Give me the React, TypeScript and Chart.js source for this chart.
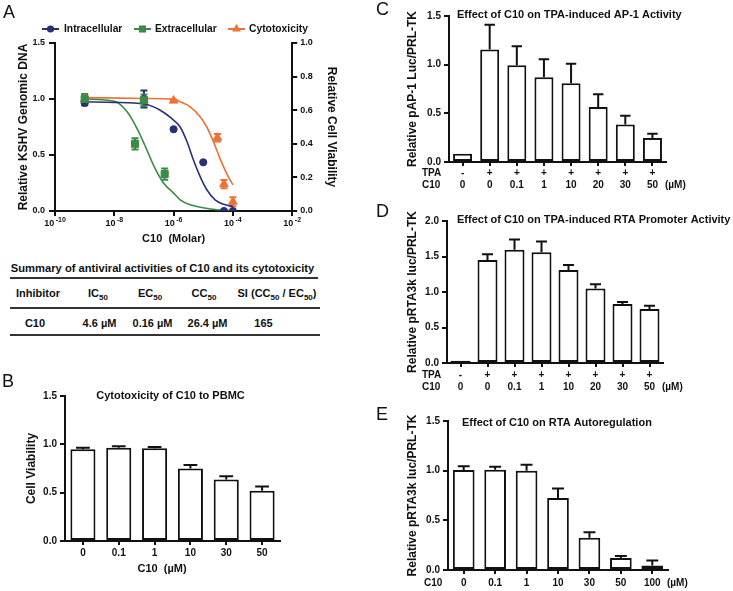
import React, { useEffect, useRef } from 'react';
import { Chart, registerables } from 'chart.js';

Chart.register(...registerables);

const FONT = "'Liberation Sans', Arial, Helvetica, sans-serif";
const INK = '#111111';
const NAVY = '#2a3075';
const GREEN = '#3a8b47';
const ORANGE = '#ed7133';

// ---------- Panel A: dose-response (molar, log axis) ----------
const intraDose = [1e-9, 1e-7, 1e-6, 1e-5, 5e-5, 1e-4];
const intraMean = [0.965, 1.0, 0.73, 0.435, 0.0, 0.0];
const intraSem = [0.02, 0.075, 0, 0, 0, 0];

const extraDose = [1e-9, 5e-8, 1e-7, 5e-7];
const extraMean = [1.0, 0.6, 0.99, 0.33];
const extraSem = [0.045, 0.05, 0.05, 0.05];

const cytoDose = [1e-9, 1e-7, 1e-6, 3e-5, 5e-5, 1e-4];
const cytoMean = [0.665, 0.66, 0.657, 0.436, 0.16, 0.055];
const cytoSem = [0.012, 0.012, 0.006, 0.022, 0.025, 0.027];

// fitted curves
const intraFitDose = [1e-9, 1e-8, 1e-7, 3.55e-7, 7.76e-7, 1.66e-6, 2.82e-6, 4.68e-6, 7.94e-6, 1.32e-5, 2.51e-5, 4.9e-5, 1e-4];
const intraFitValue = [0.975, 0.97, 0.955, 0.9, 0.835, 0.75, 0.62, 0.455, 0.305, 0.19, 0.1, 0.06, 0.04];
const extraFitDose = [1e-9, 1e-8, 2.63e-8, 5.75e-8, 1.26e-7, 2.09e-7, 4.57e-7, 1e-6, 1.66e-6, 3.63e-6, 1.74e-5, 1e-4];
const extraFitValue = [1.0, 0.98, 0.89, 0.74, 0.545, 0.41, 0.25, 0.16, 0.1, 0.055, 0.018, 0.003];
const cytoFitDose = [1e-9, 1e-7, 1e-6, 1.66e-6, 3.63e-6, 7.94e-6, 1.32e-5, 2.24e-5, 3.72e-5, 6.31e-5, 1e-4];
const cytoFitValue = [0.675, 0.67, 0.665, 0.65, 0.62, 0.56, 0.5, 0.41, 0.31, 0.22, 0.155];

const aTickExponents = [-10, -8, -6, -4, -2];

// ---------- Summary table ----------
const tableTitle = 'Summary of antiviral activities of C10 and its cytotoxicity';
const tableRow = ['C10', '4.6 µM', '0.16 µM', '26.4 µM', '165'];

// ---------- Panel B ----------
const bDoses = ['0', '0.1', '1', '10', '30', '50'];
const bViability = [0.95, 0.965, 0.96, 0.75, 0.635, 0.52];
const bErr = [0.015, 0.015, 0.013, 0.037, 0.035, 0.045];

// ---------- Panels C & D ----------
const tpaFlags = ['-', '+', '+', '+', '+', '+', '+', '+'];
const cdDoses = ['0', '0', '0.1', '1', '10', '20', '30', '50'];
const cValues = [0.085, 1.155, 0.995, 0.87, 0.81, 0.565, 0.385, 0.247];
const cErr = [0, 0.255, 0.195, 0.185, 0.2, 0.13, 0.09, 0.043];
const dValues = [0.03, 1.45, 1.595, 1.56, 1.31, 1.05, 0.83, 0.76];
const dErr = [0, 0.08, 0.145, 0.15, 0.07, 0.06, 0.03, 0.045];

// ---------- Panel E ----------
const eDoses = ['0', '0.1', '1', '10', '30', '50', '100'];
const eValues = [1.007, 1.01, 1.0, 0.725, 0.325, 0.12, 0.045];
const eErr = [0.038, 0.03, 0.06, 0.095, 0.055, 0.02, 0.05];

const boldFont = (size: number) => ({ family: FONT, size, weight: 'bold' as const });

function drawMarker(ctx: CanvasRenderingContext2D, style: string, x: number, y: number, r: number, color: string) {
  ctx.fillStyle = color;
  ctx.beginPath();
  if (style === 'circle') {
    ctx.arc(x, y, r, 0, Math.PI * 2);
  } else if (style === 'rect') {
    const h = r * Math.SQRT1_2;
    ctx.rect(x - h, y - h, 2 * h, 2 * h);
  } else {
    ctx.moveTo(x, y - r);
    ctx.lineTo(x + r * 0.866, y + r * 0.5);
    ctx.lineTo(x - r * 0.866, y + r * 0.5);
    ctx.closePath();
  }
  ctx.fill();
}

function DoseResponsePanel() {
  const ref = useRef<HTMLCanvasElement>(null);
  useEffect(() => {
    const series = [
      { label: 'Intracellular', color: NAVY, style: 'circle', radius: 3.6, dose: intraDose, mean: intraMean, sem: intraSem, axis: 'y', fitDose: intraFitDose, fitValue: intraFitValue, order: 2, legX: 42, legTextX: 64 },
      { label: 'Extracellular', color: GREEN, style: 'rect', radius: 5, dose: extraDose, mean: extraMean, sem: extraSem, axis: 'y', fitDose: extraFitDose, fitValue: extraFitValue, order: 1, legX: 134, legTextX: 155 },
      { label: 'Cytotoxicity', color: ORANGE, style: 'triangle', radius: 5, dose: cytoDose, mean: cytoMean, sem: cytoSem, axis: 'y1', fitDose: cytoFitDose, fitValue: cytoFitValue, order: 3, legX: 228, legTextX: 249 },
    ];
    const pts = (xs: number[], ys: number[]) => xs.map((x, i) => ({ x, y: ys[i] }));
    const datasets: any[] = [];
    series.forEach((s) => {
      datasets.push({
        label: s.label, data: pts(s.dose, s.mean), yAxisID: s.axis, showLine: false,
        pointStyle: s.style, pointRadius: s.radius, pointBackgroundColor: s.color, pointBorderColor: s.color,
        pointBorderWidth: 1, borderColor: s.color, backgroundColor: s.color, order: s.order,
      });
    });
    series.forEach((s) => {
      datasets.push({
        label: s.label + ' fit', data: pts(s.fitDose, s.fitValue), yAxisID: s.axis,
        borderColor: s.color, borderWidth: 1.6, pointRadius: 0, cubicInterpolationMode: 'monotone',
        fill: false, order: 10,
      });
    });

    const errorBars = {
      id: 'aErrorBars',
      beforeDatasetsDraw(chart: any) {
        const { ctx } = chart;
        const xS = chart.scales.x;
        ctx.save();
        ctx.lineWidth = 2;
        series.forEach((s) => {
          const yS = chart.scales[s.axis];
          ctx.strokeStyle = s.color;
          s.dose.forEach((d, i) => {
            const e = s.sem[i];
            if (!e) return;
            const x = xS.getPixelForValue(d);
            const yt = yS.getPixelForValue(s.mean[i] + e);
            const yb = yS.getPixelForValue(s.mean[i] - e);
            ctx.beginPath();
            ctx.moveTo(x, yt); ctx.lineTo(x, yb);
            ctx.moveTo(x - 3.5, yt); ctx.lineTo(x + 3.5, yt);
            ctx.moveTo(x - 3.5, yb); ctx.lineTo(x + 3.5, yb);
            ctx.stroke();
          });
        });
        ctx.restore();
      },
    };

    const decorations = {
      id: 'aDecor',
      afterDraw(chart: any) {
        const { ctx } = chart;
        const xS = chart.scales.x;
        ctx.save();
        ctx.fillStyle = INK;
        ctx.textBaseline = 'middle';
        // log tick labels 10^n
        xS.ticks.forEach((t: any) => {
          const x = xS.getPixelForValue(t.value);
          const exp = String(Math.round(Math.log10(t.value)));
          ctx.font = `bold 9px ${FONT}`;
          const wb = ctx.measureText('10').width;
          ctx.font = `bold 7px ${FONT}`;
          const we = ctx.measureText(exp).width;
          const start = x - (wb + 1.5 + we) / 2;
          ctx.textAlign = 'left';
          ctx.font = `bold 9px ${FONT}`;
          ctx.fillText('10', start, xS.top + 12.3);
          ctx.font = `bold 7px ${FONT}`;
          ctx.fillText(exp, start + wb + 1.5, xS.top + 9);
        });
        // legend
        series.forEach((s) => {
          const y = 29;
          ctx.strokeStyle = s.color;
          ctx.lineWidth = 2;
          ctx.beginPath();
          ctx.moveTo(s.legX, y); ctx.lineTo(s.legX + 17, y);
          ctx.stroke();
          drawMarker(ctx, s.style, s.legX + 8.5, y, s.radius, s.color);
          ctx.fillStyle = INK;
          ctx.font = `bold 10.3px ${FONT}`;
          ctx.textAlign = 'left';
          ctx.fillText(s.label, s.legTextX, y);
        });
        ctx.restore();
      },
    };

    const axisGrid = (len: number) => ({ display: true, drawOnChartArea: false, color: INK, lineWidth: 2, tickLength: len });
    const axisBorder = { display: true, color: INK, width: 2 };

    const chart = new Chart(ref.current as HTMLCanvasElement, {
      type: 'line',
      data: { datasets },
      options: {
        responsive: false,
        animation: false,
        devicePixelRatio: 1,
        layout: { padding: { left: 16, top: 43, right: 31.8, bottom: 4 } },
        plugins: { legend: { display: false }, tooltip: { enabled: false }, title: { display: false } },
        scales: {
          x: {
            type: 'logarithmic', position: 'bottom', min: 1e-10, max: 1e-2,
            afterBuildTicks: (scale: any) => { scale.ticks = aTickExponents.map((e) => ({ value: Math.pow(10, e) })); },
            ticks: { display: false },
            grid: axisGrid(5), border: axisBorder,
            title: { display: true, text: 'C10  (Molar)', color: INK, font: boldFont(11), padding: 0 },
            afterFit: (s: any) => { s.height = 35; },
          },
          y: {
            type: 'linear', position: 'left', min: 0, max: 1.5,
            ticks: { stepSize: 0.5, color: INK, font: boldFont(9), padding: 4, callback: (v: any) => Number(v).toFixed(1) },
            grid: axisGrid(6), border: axisBorder,
            title: { display: true, text: 'Relative KSHV Genomic DNA', color: INK, font: boldFont(12), padding: 0 },
            afterFit: (s: any) => { s.width = 39; },
          },
          y1: {
            type: 'linear', position: 'right', min: 0, max: 1.0,
            ticks: { stepSize: 0.2, color: INK, font: boldFont(9), padding: 3, callback: (v: any) => Number(v).toFixed(1) },
            grid: axisGrid(5), border: axisBorder,
            title: { display: true, text: 'Relative Cell Viability', color: INK, font: boldFont(12), padding: 0 },
            afterFit: (s: any) => { s.width = 46; },
          },
        },
      } as any,
      plugins: [errorBars, decorations],
    });
    return () => chart.destroy();
  }, []);
  return <canvas ref={ref} width={370} height={250} style={{ position: 'absolute', left: 0, top: 0, width: 370, height: 250 }} />;
}

type BarSpec = {
  left: number; top: number; width: number; height: number;
  labels: (string | string[])[];
  values: number[]; errs: number[];
  yMax: number; yStep: number; yTitle: string;
  title: string; titleX: number; titleY: number; titleAlign: CanvasTextAlign;
  pad: { left: number; right: number; top: number; bottom: number };
  yWidth: number; xHeight: number; tickPad: number;
  rowLabels: string[]; rowLabelX: number; unit: string | null;
  xTitle?: string; xTitleX?: number; xTitleY?: number;
  barPct: number;
};

function BarPanel({ spec }: { spec: BarSpec }) {
  const ref = useRef<HTMLCanvasElement>(null);
  useEffect(() => {
    const errorBars = {
      id: 'barErrors',
      afterDatasetsDraw(chart: any) {
        const { ctx } = chart;
        const yS = chart.scales.y;
        const meta = chart.getDatasetMeta(0);
        ctx.save();
        ctx.strokeStyle = INK;
        ctx.lineWidth = 2;
        meta.data.forEach((bar: any, i: number) => {
          const e = spec.errs[i];
          if (!e) return;
          const v = spec.values[i];
          const x = bar.x;
          const cap = bar.width * 0.55;
          const y0 = yS.getPixelForValue(v);
          const y1 = yS.getPixelForValue(v + e);
          ctx.beginPath();
          ctx.moveTo(x, y0); ctx.lineTo(x, y1);
          ctx.moveTo(x - cap / 2, y1); ctx.lineTo(x + cap / 2, y1);
          ctx.stroke();
        });
        ctx.restore();
      },
    };
    const decor = {
      id: 'barDecor',
      afterDraw(chart: any) {
        const { ctx, chartArea } = chart;
        ctx.save();
        ctx.fillStyle = INK;
        ctx.textBaseline = 'middle';
        ctx.font = `bold 11px ${FONT}`;
        ctx.textAlign = spec.titleAlign;
        ctx.fillText(spec.title, spec.titleX, spec.titleY);
        ctx.font = `bold 10px ${FONT}`;
        ctx.textAlign = 'left';
        const rowY = (i: number) => chartArea.bottom + 4 + spec.tickPad + 12 * (i + 0.5);
        spec.rowLabels.forEach((r, i) => ctx.fillText(r, spec.rowLabelX, rowY(i)));
        if (spec.unit) ctx.fillText(spec.unit, chartArea.right - 1, rowY(spec.rowLabels.length - 1));
        if (spec.xTitle) {
          ctx.font = `bold 11px ${FONT}`;
          ctx.textAlign = 'center';
          ctx.fillText(spec.xTitle, spec.xTitleX, spec.xTitleY);
        }
        ctx.restore();
      },
    };
    const chart = new Chart(ref.current as HTMLCanvasElement, {
      type: 'bar',
      data: {
        labels: spec.labels,
        datasets: [{
          data: spec.values, backgroundColor: '#ffffff', borderColor: INK, borderWidth: 2,
          borderSkipped: false, barPercentage: spec.barPct, categoryPercentage: 1,
        }],
      },
      options: {
        responsive: false,
        animation: false,
        devicePixelRatio: 1,
        layout: { padding: spec.pad },
        plugins: { legend: { display: false }, tooltip: { enabled: false }, title: { display: false } },
        scales: {
          x: {
            type: 'category', offset: true,
            grid: { display: true, drawOnChartArea: false, offset: false, color: INK, lineWidth: 2, tickLength: 4 },
            border: { display: true, color: INK, width: 2 },
            ticks: { color: INK, font: boldFont(10), padding: spec.tickPad, maxRotation: 0, autoSkip: false },
            afterFit: (s: any) => { s.height = spec.xHeight; },
          },
          y: {
            min: 0, max: spec.yMax,
            grid: { display: true, drawOnChartArea: false, color: INK, lineWidth: 2, tickLength: 5 },
            border: { display: true, color: INK, width: 2 },
            ticks: { stepSize: spec.yStep, color: INK, font: boldFont(10), padding: 3, callback: (v: any) => Number(v).toFixed(1) },
            title: { display: true, text: spec.yTitle, color: INK, font: boldFont(12), padding: 0 },
            afterFit: (s: any) => { s.width = spec.yWidth; },
          },
        },
      } as any,
      plugins: [errorBars, decor],
    });
    return () => chart.destroy();
  }, []);
  return (
    <canvas ref={ref} width={spec.width} height={spec.height}
      style={{ position: 'absolute', left: spec.left, top: spec.top, width: spec.width, height: spec.height }} />
  );
}

const specB: BarSpec = {
  left: 0, top: 375, width: 370, height: 216,
  labels: bDoses, values: bViability, errs: bErr,
  yMax: 1.5, yStep: 0.5, yTitle: 'Cell Viability',
  title: 'Cytotoxicity of C10 to PBMC', titleX: 170.5, titleY: 21, titleAlign: 'center',
  pad: { left: 24.8, right: 90, top: 21, bottom: 15.4 },
  yWidth: 40.2, xHeight: 34.6, tickPad: 2,
  rowLabels: [], rowLabelX: 0, unit: null,
  xTitle: 'C10  (µM)', xTitleX: 162, xTitleY: 194,
  barPct: 0.7,
};

const specC: BarSpec = {
  left: 370, top: 0, width: 363, height: 195,
  labels: tpaFlags.map((t, i) => [t, cdDoses[i]]), values: cValues, errs: cErr,
  yMax: 1.5, yStep: 0.5, yTitle: 'Relative pAP-1 Luc/PRL-TK',
  title: 'Effect of C10 on TPA-induced AP-1 Activity', titleX: 87, titleY: 15, titleAlign: 'left',
  pad: { left: 35.8, right: 67, top: 16, bottom: 5 },
  yWidth: 43.2, xHeight: 28, tickPad: 1,
  rowLabels: ['TPA', 'C10'], rowLabelX: 52, unit: '(µM)',
  barPct: 0.7,
};

const specD: BarSpec = {
  left: 370, top: 195, width: 363, height: 205,
  labels: tpaFlags.map((t, i) => [t, cdDoses[i]]), values: dValues, errs: dErr,
  yMax: 2.0, yStep: 0.5, yTitle: 'Relative pRTA3k luc/PRL-TK',
  title: 'Effect of C10 on TPA-induced RTA Promoter Activity', titleX: 87, titleY: 25, titleAlign: 'left',
  pad: { left: 35.8, right: 70, top: 26, bottom: 7 },
  yWidth: 41.2, xHeight: 30, tickPad: 2,
  rowLabels: ['TPA', 'C10'], rowLabelX: 52, unit: '(µM)',
  barPct: 0.74,
};

const specE: BarSpec = {
  left: 370, top: 400, width: 363, height: 191,
  labels: eDoses, values: eValues, errs: eErr,
  yMax: 1.5, yStep: 0.5, yTitle: 'Relative pRTA3k luc/PRL-TK',
  title: 'Effect of C10 on RTA Autoregulation', titleX: 92, titleY: 23, titleAlign: 'left',
  pad: { left: 35.8, right: 65, top: 21, bottom: 3 },
  yWidth: 42.2, xHeight: 18, tickPad: 3,
  rowLabels: ['C10'], rowLabelX: 54, unit: '(µM)',
  barPct: 0.69,
};

function Sub({ children }: { children: React.ReactNode }) {
  return <span style={{ fontSize: 8, position: 'relative', top: 3 }}>{children}</span>;
}

function Cell({ cx, cy, children }: { cx: number; cy: number; children: React.ReactNode }) {
  return (
    <div style={{ position: 'absolute', left: cx - 60, width: 120, top: cy - 6, height: 12, lineHeight: '12px', textAlign: 'center', fontSize: 11, fontWeight: 'bold', whiteSpace: 'nowrap' }}>
      {children}
    </div>
  );
}

function Rule({ top, left, width }: { top: number; left: number; width: number }) {
  return <div style={{ position: 'absolute', top, left, width, height: 2, background: '#333' }} />;
}

function SummaryTable() {
  const headerX = [38, 98, 150, 204, 277];
  const rowX = [35, 99.5, 152.5, 207.5, 263.5];
  return (
    <>
      <div style={{ position: 'absolute', left: 10, width: 305, top: 262, height: 12, lineHeight: '12px', textAlign: 'center', fontSize: 11.2, fontWeight: 'bold', whiteSpace: 'nowrap' }}>{tableTitle}</div>
      <Rule top={277} left={10} width={308} />
      <Cell cx={headerX[0]} cy={293}>Inhibitor</Cell>
      <Cell cx={headerX[1]} cy={293}>IC<Sub>50</Sub></Cell>
      <Cell cx={headerX[2]} cy={293}>EC<Sub>50</Sub></Cell>
      <Cell cx={headerX[3]} cy={293}>CC<Sub>50</Sub></Cell>
      <Cell cx={headerX[4]} cy={293}>SI (CC<Sub>50</Sub> / EC<Sub>50</Sub>)</Cell>
      <Rule top={307} left={10} width={310} />
      {tableRow.map((t, i) => <Cell key={i} cx={rowX[i]} cy={323}>{t}</Cell>)}
      <Rule top={334} left={10} width={310} />
    </>
  );
}

function Letter({ text, left, top }: { text: string; left: number; top: number }) {
  return <div style={{ position: 'absolute', left, top, fontSize: 18, lineHeight: '18px', fontWeight: 'normal' }}>{text}</div>;
}

export default function App() {
  return (
    <div style={{ position: 'absolute', left: 0, top: 0, width: 733, height: 591, background: '#ffffff', overflow: 'hidden', fontFamily: FONT, color: INK }}>
      <DoseResponsePanel />
      <SummaryTable />
      <BarPanel spec={specB} />
      <BarPanel spec={specC} />
      <BarPanel spec={specD} />
      <BarPanel spec={specE} />
      <Letter text="A" left={3} top={3} />
      <Letter text="B" left={2} top={372} />
      <Letter text="C" left={376} top={0} />
      <Letter text="D" left={376} top={202} />
      <Letter text="E" left={376} top={405} />
    </div>
  );
}
